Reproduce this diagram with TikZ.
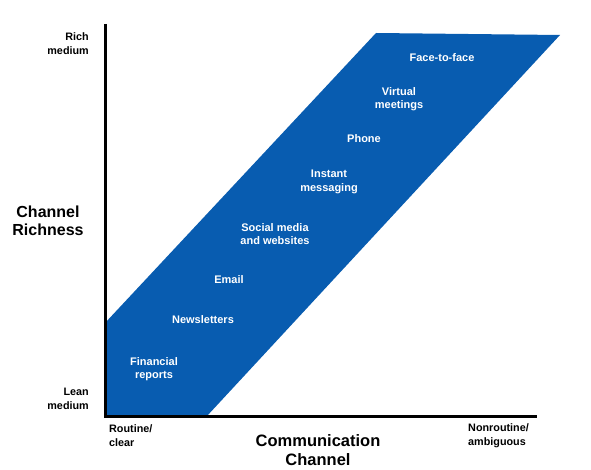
\documentclass[tikz,border=0pt]{standalone}
\usepackage{fontspec}
\setmainfont{Liberation Sans}
\definecolor{chblue}{RGB}{8,92,176}
\begin{document}
\begin{tikzpicture}[x=1pt,y=-1pt,
  lbl/.style={text=white,font=\bfseries\fontsize{11}{13.5}\selectfont,align=center,inner sep=0pt},
  axlbl/.style={font=\bfseries\fontsize{10.8}{14}\selectfont,inner sep=0pt},
  big/.style={font=\bfseries\fontsize{16.5}{19}\selectfont,align=center,inner sep=0pt},
  big2/.style={font=\bfseries\fontsize{16}{17.5}\selectfont,align=center,inner sep=0pt},
  axis/.style={line width=3pt}]
\useasboundingbox (0,0) rectangle (591,470);
\coordinate (o) at (105,416);
\coordinate (ytop) at (105,24);
\coordinate (xend) at (537,416);
\fill[chblue] (105,323) -- (376,33) -- (560,35) -- (207,416) -- (105,416) -- cycle;
\draw[axis] (ytop) -- (o) -- (xend);
\node[lbl] (ftf) at (442,58) {Face-to-face};
\node[lbl] (vm) at (399,99) {Virtual\\meetings};
\node[lbl] (ph) at (364,139) {Phone};
\node[lbl] (im) at (329,182) {Instant\\messaging};
\node[lbl] (sm) at (275,234) {Social media\\and websites};
\node[lbl] (em) at (229,280) {Email};
\node[lbl] (nl) at (203,320) {Newsletters};
\node[lbl] (fr) at (154,369) {Financial\\reports};
\node[axlbl,align=right,anchor=east] (rich) at (89,44) {Rich\\medium};
\node[axlbl,align=right,anchor=east] (lean) at (89,399) {Lean\\medium};
\node[axlbl,align=left,anchor=west] (rout) at (109,436) {Routine/\\clear};
\node[axlbl,align=left,anchor=west] (nonr) at (468,436) {Nonroutine/\\ambiguous};
\node[big] (cc) at (318,450) {Communication\\Channel};
\node[big2] (cr) at (48,221) {Channel\\Richness};
\end{tikzpicture}
\end{document}
